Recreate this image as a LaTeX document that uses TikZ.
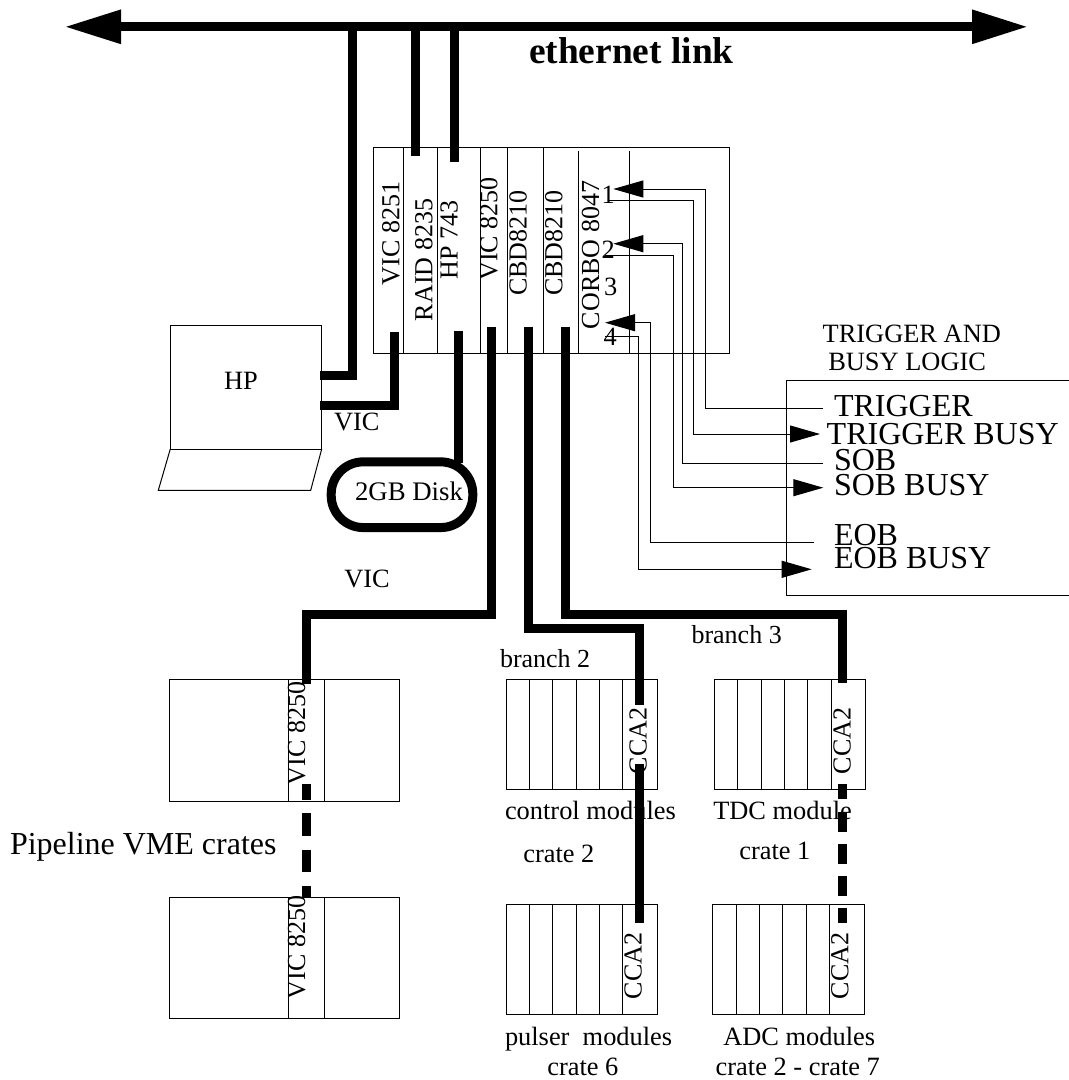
\documentclass[tikz,border=0pt]{standalone}
\usepackage{fontspec}
\setmainfont{Liberation Serif}
\usetikzlibrary{arrows.meta}
\tikzset{
  thinl/.style={line width=1pt,draw=black,line join=miter},
  thick bar/.style={line width=9pt,draw=black,line cap=butt,line join=miter},
  busarrow/.style={line width=9pt,draw=black,{Triangle[length=56.5pt,width=32pt]}-{Triangle[length=56pt,width=32pt]}},
  sig/.style={thinl,-{Triangle[length=30pt,width=17pt]}},
  txt/.style={inner sep=0pt,outer sep=0pt,anchor=base west,font=\fontsize{26.4}{26.4}\selectfont},
  big/.style={txt,font=\fontsize{32}{32}\selectfont},
  rot/.style={txt,rotate=90,font=\fontsize{26}{26}\selectfont},
  boxn/.style={draw=black,line width=1pt,inner sep=0pt,outer sep=0pt},
}
% name, x1, y1, x2, y2
\newcommand{\boxat}[5]{%
  \pgfmathsetmacro{\bw}{#4-#2}\pgfmathsetmacro{\bh}{#5-#3}%
  \node[boxn,minimum width=\bw pt,minimum height=\bh pt] (#1) at ({(#2+#4)/2},{(#3+#5)/2}) {};}
\begin{document}
\begin{tikzpicture}[x=1pt,y=-1pt]
\useasboundingbox (0,0) rectangle (1069,1080);
% --- boxes
\boxat{main}{373.3}{147.7}{729}{353.3}
\foreach \x/\t in {403.3/147.7,437.7/147.7,480/147.7,507.7/147.7,543.7/147.7,578.7/150.5,629/150.5}
  \draw[thinl] (\x,\t) -- (\x,353.3);
\boxat{laptop}{170.3}{325.7}{321.7}{449}
\draw[thinl] (170.3,449) -- (158.3,490.3) -- (310.7,490.3) -- (321.7,449);
\boxat{vmeA}{169}{679.3}{399}{801}
\boxat{vmeB}{169}{897}{399}{1018.7}
\foreach \x in {288,324.7} {
  \draw[thinl] (\x,679.3) -- (\x,801);
  \draw[thinl] (\x,897) -- (\x,1018.7);
}
\boxat{ctrl}{506}{679.3}{657.7}{789.3}
\boxat{puls}{506}{904.3}{657.7}{1014.3}
\foreach \x in {529.3,552.7,576,599.3,622.7} {
  \draw[thinl] (\x,679.3) -- (\x,789.3);
  \draw[thinl] (\x,904.3) -- (\x,1014.3);
}
\boxat{tdc}{714.3}{679.3}{865.7}{789.3}
\foreach \x in {737.7,761,784.3,807.7,831}
  \draw[thinl] (\x,679.3) -- (\x,789.3);
\boxat{adc}{712.3}{904.3}{864.3}{1014.3}
\foreach \x in {736,759.3,782.7,806,829.3}
  \draw[thinl] (\x,904.3) -- (\x,1014.3);
\draw[thinl] (1069,380.7) -- (786.7,380.7) -- (786.7,595.7) -- (1069,595.7);
% --- texts
\node[txt,font=\fontsize{37.4}{37.4}\selectfont\bfseries] (eth) at (529,63.3) {ethernet link};
\node[rot] (t8251) at (399.3,285) {VIC 8251};
\node[rot] (traid) at (432.3,321) {RAID 8235};
\node[rot] (thp) at (457.7,279) {HP 743};
\node[rot] (t8250) at (497.3,280.7) {VIC 8250};
\node[rot] (tcbda) at (526.7,295.7) {CBD8210};
\node[rot] (tcbdb) at (562.3,295.7) {CBD8210};
\node[rot] (tcorbo) at (599,329) {CORBO 8047};
\node[txt] (d1) at (601.5,203) {1};
\node[txt] (d2) at (601.5,258.3) {2};
\node[txt] (d3) at (604,295.7) {3};
\node[txt] (d4) at (603.5,345) {4};
\node[txt] (hp) at (224,389) {HP};
\node[txt] (vica) at (334,430.7) {VIC};
\node[txt,font=\fontsize{26.8}{26.8}\selectfont] (disktxt) at (355,500) {2GB Disk};
\node[txt] (vicb) at (344.3,587.3) {VIC};
\node[txt] (tla) at (822.7,342.3) {TRIGGER AND};
\node[txt] (tlb) at (828.3,370.7) {BUSY LOGIC};
\node[big] (ttrig) at (834,416.7) {TRIGGER};
\node[big] (ttrigb) at (826.7,444) {TRIGGER BUSY};
\node[big] (tsob) at (834,470) {SOB};
\node[big] (tsobb) at (834,495.7) {SOB BUSY};
\node[big] (teob) at (834,545) {EOB};
\node[big] (teobb) at (834,568.3) {EOB BUSY};
\node[big] (pipe) at (10,854) {Pipeline VME crates};
\node[rot] (va) at (305,785) {VIC 8250};
\node[rot] (vb) at (305,999) {VIC 8250};
\node[rot] (ca) at (646.7,774.3) {CCA2};
\node[rot] (cb) at (850.7,774.3) {CCA2};
\node[rot] (cc) at (641.7,999.3) {CCA2};
\node[rot] (cd) at (848.3,999.3) {CCA2};
\node[txt,font=\fontsize{26}{26}\selectfont] (br2) at (500,667.3) {branch 2};
\node[txt,font=\fontsize{26}{26}\selectfont] (br3) at (691.5,643) {branch 3};
\node[txt] (lctrl) at (505,819.3) {control modules};
\node[txt] (lcr2) at (523.3,862.3) {crate 2};
\node[txt] (ltdc) at (713.3,819.3) {TDC module};
\node[txt] (lcr1) at (739.3,859.3) {crate 1};
\node[txt] (lpuls) at (505,1045) {pulser\ \ modules};
\node[txt] (lcr6) at (547.3,1075) {crate 6};
\node[txt] (ladc) at (723.3,1045) {ADC modules};
\node[txt] (lcr7) at (715.7,1075) {crate 2 - crate 7};
% --- disk
\node[draw=black,line width=9pt,rounded corners=32pt,minimum width=141.6pt,minimum height=65.7pt,inner sep=0pt,outer sep=0pt] (disk) at (402,494.7) {};
% --- named end points
\coordinate (ethL) at (64.5,26.8);
\coordinate (ethR) at (1028,26.8);
\coordinate (hpA) at (320,375);
\coordinate (hpB) at (320,405);
\coordinate (busA) at (352,22.3);
\coordinate (raidT) at (415.7,31);
\coordinate (raidB) at (415.7,155.5);
\coordinate (hpT) at (454,22.3);
\coordinate (hpBt) at (454,162);
\coordinate (vStub) at (394.3,332);
\coordinate (dStub) at (458.7,331);
\coordinate (dEnd) at (458.7,462.7);
\coordinate (vic8250) at (491.3,326.7);
\coordinate (vmeTop) at (306.7,684);
\coordinate (cbdA) at (528,326.7);
\coordinate (ccaA) at (639,705);
\coordinate (cbdB) at (565,326.7);
\coordinate (ccaB) at (842.3,683);
% --- thick connectors
\draw[busarrow] (ethL) -- (ethR);
\draw[thick bar] (busA) -- (hpA -| busA) -- (hpA);
\draw[thick bar] (raidT) -- (raidB);
\draw[thick bar] (hpT) -- (hpBt);
\draw[thick bar] (vStub) -- (hpB -| vStub) -- (hpB);
\draw[thick bar] (dStub) -- (dEnd);
\draw[thick bar] (vic8250) -- (491.3,614) -- (306.7,614) -- (vmeTop);
\draw[thick bar] (cbdA) -- (528,628) -- (639,628) -- (ccaA);
\draw[thick bar] (cbdB) -- (565,614) -- (842.3,614) -- (ccaB);
\draw[thick bar] (639,764) -- (639,923.3);
\foreach \a/\b in {784/800,813.3/836,850/872,886/897.3}
  \draw[thick bar] (306.7,\a) -- (306.7,\b);
\foreach \a/\b in {784/799,812/831.7,844/864,876/896,907.7/923.3}
  \draw[thick bar] (842.3,\a) -- (842.3,\b);
% --- thin signal connectors
\coordinate (s1) at (822.7,408.3);  \coordinate (a1) at (613.3,189);
\coordinate (s2) at (608,200.7);    \coordinate (a2) at (820,434);
\coordinate (s3) at (822.7,463.3);  \coordinate (a3) at (613.3,243.7);
\coordinate (s4) at (605,255);      \coordinate (a4) at (823.3,487.7);
\coordinate (s5) at (814,542.3);    \coordinate (a5) at (605,322.7);
\coordinate (s6) at (605,336.7);    \coordinate (a6) at (811.7,569.3);
\draw[sig] (s1) -- (705.7,408.3) -- (705.7,189) -- (a1);
\draw[sig] (s2) -- (693.3,200.7) -- (693.3,434) -- (a2);
\draw[sig] (s3) -- (682,463.3) -- (682,243.7) -- (a3);
\draw[sig] (s4) -- (673.7,255) -- (673.7,487.7) -- (a4);
\draw[sig] (s5) -- (650,542.3) -- (650,322.7) -- (a5);
\draw[sig] (s6) -- (638.3,336.7) -- (638.3,569.3) -- (a6);
\end{tikzpicture}
\end{document}
